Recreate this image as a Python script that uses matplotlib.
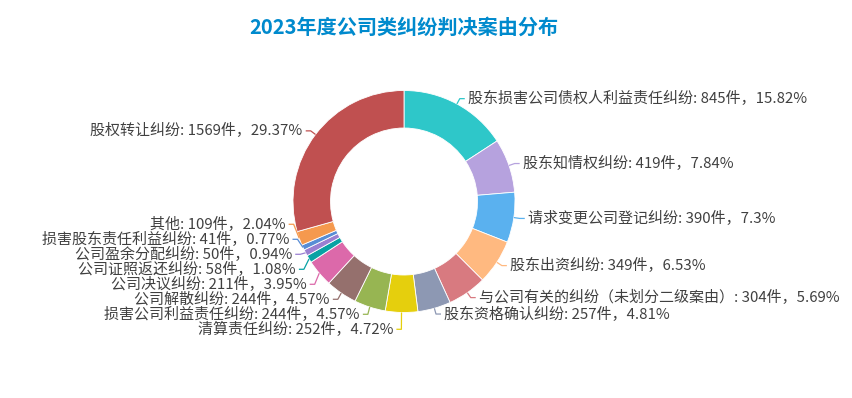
import numpy as np
import matplotlib.pyplot as plt

plt.rcParams['font.family'] = ['Noto Sans CJK SC', 'DejaVu Sans']

title = '2023年度公司类纠纷判决案由分布'
categories = [
    '股东损害公司债权人利益责任纠纷', '股东知情权纠纷', '请求变更公司登记纠纷', '股东出资纠纷',
    '与公司有关的纠纷（未划分二级案由）', '股东资格确认纠纷', '清算责任纠纷', '损害公司利益责任纠纷',
    '公司解散纠纷', '公司决议纠纷', '公司证照返还纠纷', '公司盈余分配纠纷',
    '损害股东责任利益纠纷', '其他', '股权转让纠纷',
]
counts = [845, 419, 390, 349, 304, 257, 252, 244, 244, 211, 58, 50, 41, 109, 1569]
percents = ['15.82', '7.84', '7.3', '6.53', '5.69', '4.81', '4.72', '4.57',
            '4.57', '3.95', '1.08', '0.94', '0.77', '2.04', '29.37']
colors = ['#2ec7c9', '#b6a2de', '#5ab1ef', '#ffb980', '#d87a80', '#8d98b3', '#e5cf0d', '#97b552',
          '#95706d', '#dc69aa', '#07a2a4', '#9a7fd1', '#588dd5', '#f5994e', '#c05050']

W, H = 853, 398
cx, cy = 404, H - 201.5
R = 111
ring = 37.5

fig = plt.figure(figsize=(W / 100, H / 100), dpi=100)
ax = fig.add_axes([0, 0, 1, 1])
wedges, _ = ax.pie(counts, colors=colors, startangle=90, counterclock=False,
                   radius=R, center=(cx, cy),
                   wedgeprops=dict(width=ring, edgecolor='white', linewidth=0.6))
ax.set_xlim(0, W)
ax.set_ylim(0, H)
ax.set_aspect('equal')
ax.axis('off')

# label line anchors, one per slice
len1, len2, gap = 6, 5, 3
items = []
for i, w in enumerate(wedges):
    ang = np.deg2rad((w.theta1 + w.theta2) / 2)
    items.append(dict(
        i=i,
        ex=cx + R * np.cos(ang), ey=cy + R * np.sin(ang),
        px=cx + (R + len1) * np.cos(ang), y=cy + (R + len1) * np.sin(ang),
        side=1 if np.cos(ang) >= 0 else -1,
    ))


def spread(group, step=15):
    # push overlapping labels apart, keeping their mean
    group.sort(key=lambda d: -d['y'])
    for _ in range(500):
        moved = False
        for a, b in zip(group, group[1:]):
            d = a['y'] - b['y']
            if d < step - 1e-6:
                s = (step - d) / 2
                a['y'] += s
                b['y'] -= s
                moved = True
        if not moved:
            break


spread([d for d in items if d['side'] > 0])
spread([d for d in items if d['side'] < 0])

for d in items:
    i = d['i']
    x3 = d['px'] + d['side'] * len2
    ax.plot([d['ex'], d['px'], x3], [d['ey'], d['y'], d['y']],
            color=colors[i], lw=0.9, solid_capstyle='butt')
    ax.text(x3 + d['side'] * gap, d['y'], f'{categories[i]}: {counts[i]}件，{percents[i]}%',
            ha='left' if d['side'] > 0 else 'right', va='center',
            fontsize=10.8, color='#404040')

fig.text(404 / W, 1 - 27 / H, title, ha='center', va='center',
         fontsize=14.5, fontweight='bold', color='#008acd')

fig.savefig('out.png', dpi=100, facecolor='white')
